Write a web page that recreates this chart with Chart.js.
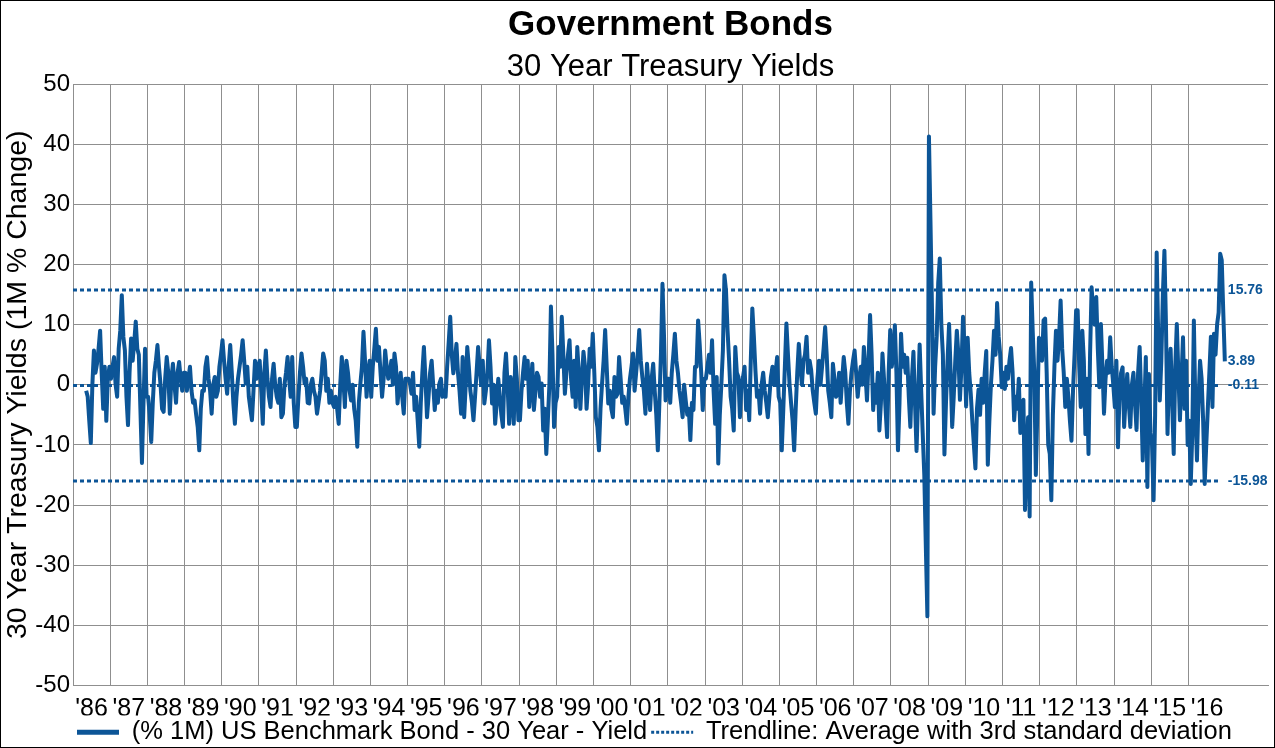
<!DOCTYPE html>
<html>
<head>
<meta charset="utf-8">
<script src="https://cdn.jsdelivr.net/npm/chart.js@4.4.1/dist/chart.umd.min.js"></script>
<style>
  html, body { margin: 0; padding: 0; background: #fff; }
  canvas { display: block; }
</style>
</head>
<body>
<canvas id="bonds" width="1275" height="748"></canvas>
<script>
const seriesName = '(% 1M) US Benchmark Bond - 30 Year - Yield';
const trendName = 'Trendline: Average with 3rd standard deviation';
const yearLabels = ["'86", "'87", "'88", "'89", "'90", "'91", "'92", "'93", "'94", "'95", "'96",
  "'97", "'98", "'99", "'00", "'01", "'02", "'03", "'04", "'05", "'06", "'07", "'08", "'09",
  "'10", "'11", "'12", "'13", "'14", "'15", "'16"];
const trendLevels = [15.76, -0.11, -15.98];

// half-monthly readings of the 1M % change; series starts early May 1986
const firstYear = 1986;
const firstSlot = 8;
const h1986 = [-1, -2, -6, -9.7, 0, 5.7, 2, 3.5, 6, 9, 2, -4, 3, -6, 1, 3];
const h1987 = [1, 3, 4.6, 0, -2, 6, 9, 14.9, 8, 5.7, -2, -6.7, 2, 7.7, 4, 7, 10.5, 6, 5, -4, -13, -3, 6, -2];
const h1988 = [-2, -5, -9.5, -3, 2, 4, 6.6, 3, 0, -4, -4.5, 1, 4.6, 2, -4.8, 1, 3.5, 0, -3, 2, 3.8, 1, -1, 2];
const h1989 = [2, -1, 1, 3, -1, -3, -2.6, -5, -7, -10.9, -4, -1, -1, 3, 4.6, 1, -1, -4.8, 0, 1.3, -2, -1, 3, 5];
const h1990 = [7.4, 4, 1, -1.5, 3, 6.6, 2, -3, -6.5, -2, 1, 3, 5, 7.4, 4, 0.2, 3, -2, -4, -5.9, -1, 4, 1, 3];
const h1991 = [4, -1, -6.5, 2, 5.7, 1, -2, -3.7, 1, 3.5, 0, -2, -3, 1, -5.4, -4.8, 0, 2, 4.6, 1, -2, 4.6, -3, -7];
const h1992 = [-7, -2, 2, 5.2, 3, 0.2, 1, -3, -3.1, 0, 1, -1, -2, -4.8, -3, -1, 2, 5.2, 4, -1, 1, -3, -1, -3];
const h1993 = [-3.7, -2, -4, -6.5, 0, 4.6, 1, -3.7, 4, 2, -1, -2.6, 0, -4, -6, -10.3, -3, 0.2, 3, 8.8, 4, -2, 2, 4];
const h1994 = [-2, 3, 6, 9.3, 4, 6.3, 2, -2, 1, 5.7, 3, 1, 2, 4, 0, 5.2, 3, -3.1, 0, 2, -2, -4.8, 1, 1];
const h1995 = [1, 0.2, -1.5, 2, -4.2, -2, -6, -10.3, -3, 2, 6.3, 1, -5.4, -2, 2, 4, 0, -4.2, -1, -3, 0.2, 1, -2, -1];
const h1996 = [-2, 3, 7, 11.3, 5, 1.9, 4, 6.8, 2, -1, -4.8, 4.6, -5.4, 0, 6.3, 3, -1, -3, -5.9, -2, 2, 6.3, 3, 0];
const h1997 = [4, -3.1, -1, 2, 7.4, 3, -3.1, 0, -6.5, -3, 1, -2, -5, -7, 2, 5.2, 0, -6.5, 1.3, -2, -6.5, 4.6, 1, -5.9];
const h1998 = [-5.9, -1, 2, 4.6, 1, 4, -3.7, 0, 3.5, -4.2, -1, 2, 1.3, -2, 0.2, -7.6, -4, -11.5, -6, 0, 13, 5, -7, -3];
const h1999 = [-2, 6.3, 3, 11.3, 5, -1.5, 2, 5, 7.4, 1, -2, 4, -3.7, 6.3, 2, -4, 1, 5.5, 3, -4, 0, 6, 3, 8.5];
const h2000 = [2, -5.4, -7, -10.9, -4, 0.2, 4, 9.1, 3, -3.1, -1, -4, -5.4, 1.3, -2, -1.5, 4.6, 1, -3, -2, -4, -6.5, -2, 1];
const h2001 = [3, 5.2, -1, 2, 5, 9.1, 4, 1.3, -1, -4.8, 3.5, 0, -4.2, 1, 3.5, -1, -5, -10.9, -3, 5, 16.8, 8, -2.6, 1];
const h2002 = [1, -3, 2, 5, 8.5, 4, 1.9, -1, -3, -5.4, 0, -2.6, -5, -4, -9.2, -3, -4.2, 3, 3, 10.7, 6.8, 2, -4.2, 1];
const h2003 = [1, 3, 5, 2, 7.4, -1, -6.5, 1.3, -13.1, -5, 0, 5.7, 18.2, 15.7, 9.1, 4, -2, -4, -7.6, 6.3, 2, 1.3, -5.4, 0];
const h2004 = [1.3, 3, -4.2, -1, -5.9, 4, 12.7, 8, 2.4, -2, -1, -4.8, 0, 2, -1, -3, -5.4, -2, 1.3, 3, 0, 2, 4.6, -2];
const h2005 = [-3, -10.9, -4, 3, 10.2, 5, 0.2, -3, -6, -10.9, -4, 2, 6.8, 3, 0, 4, 5, 8, 2, 4, 2.4, -1, -3, -4.8];
const h2006 = [1, 4, 0, 3, 6, 9.6, 5, -1, -3, -5.4, 3.5, 1, -2, -1.5, 2, -3, 1, 4.6, 2, -3, -6.5, -1, 2, 4];
const h2007 = [5.7, 2, -2, 1, 3, 0, 6.3, 2, -2.6, 4, 11.6, 5, -4.2, 0, -3, 2, -7.6, -3, 5.2, 1, -4, -8.7, 2, 9.1];
const h2008 = [3, 5, 9.9, 2, -10.9, -3, 8.5, 3, 5, 2, 4.5, -2, -7, 1, 5.5, -3, -11, -2, 6.7, -1, -8.2, -15, -27, -38.5];
const h2009 = [41.3, 27, 12, -4.8, 3, 8, 17, 21, 10, 5, -11.6, -3, 4, 10.1, 2, -7, -2, 4, 9, 5, -2.5, 3, 11.3, 6];
const h2010 = [-3.6, 7.8, 2, -1.5, -6, -10, -13.9, -4, -0.8, -5, 1, -3, 2, 5.6, -13.3, -6, 0, 4, 9, 5, 13.6, 8, 5, -0.4];
const h2011 = [2, -0.7, 3, 1, 4, 6.1, 2, -5.9, -2, -4, 1, -8, -3, -2.5, -20.8, -12, -5.4, -21.9, 17, 8.8, 2, -15, -4, 7.8];
const h2012 = [7.4, 4, 10.7, 11, 2, -10, -11.5, -19.2, -5, 3, 9, 4, 8, 14, 6, 2, -3.7, 1, -2, -6, -9.3, -1, 5, 12.4];
const h2013 = [12.4, 3, -3.7, 9, 4, -8.2, 1, -11.5, 5, 16.2, 12, 10, 14.6, 6, -0.4, 10.1, 3, -4.8, 1, 4, 2, 7.9, 3, 0];
const h2014 = [-3.7, 4, -10.4, -2, 1.9, 2.9, -7, -2, 1.8, -3, -7, 0, 2, -3, -7.5, 2, 6.3, -2, -12.6, -4, 4.6, -17, 1.8, -8];
const h2015 = [-10, -19.2, -5, 22, 8, -2.6, 4, 15, 22.3, 10, -8.2, 2, 6, -3, -11.5, 3, 10.1, 2, -5.9, 1, 7.9, -4, 4, -10];
const h2016 = [-6, -16.5, -8, 10.7, -4, -12.6, -2.6, 4, 1, -6, -16.5, -10, -4, 2, 8, -3.7, 8.5, 5, 10, 12, 21.8, 20.7, 12, 3.89];

const halfMonthlyByYear = [h1986, h1987, h1988, h1989, h1990, h1991, h1992, h1993, h1994, h1995,
  h1996, h1997, h1998, h1999, h2000, h2001, h2002, h2003, h2004, h2005, h2006, h2007, h2008,
  h2009, h2010, h2011, h2012, h2013, h2014, h2015, h2016];

const BLUE = '#0C5597';
const GRID = '#8f8f8f';
const FONT = "'Liberation Sans', Arial, sans-serif";

const points = [];
halfMonthlyByYear.forEach((vals, i) => {
  const start = i === 0 ? firstSlot : 0;
  vals.forEach((v, j) => {
    points.push({ x: firstYear + i + (start + j + 0.5) / 24, y: v });
  });
});
const lastPoint = points[points.length - 1];

const trendSets = trendLevels.map(v => ({
  label: trendName,
  data: [{ x: firstYear, y: v }, { x: lastPoint.x - 0.15, y: v }],
  borderColor: BLUE,
  borderWidth: 3,
  borderDash: [4, 3],
  pointRadius: 0,
  fill: false
}));

// value labels at the right end of the lines
const endLabels = {
  id: 'endLabels',
  afterDatasetsDraw(chart) {
    const { ctx, scales } = chart;
    const xs = scales.x.getPixelForValue(lastPoint.x) + 3;
    ctx.save();
    ctx.font = 'bold 14px ' + FONT;
    ctx.fillStyle = BLUE;
    ctx.textAlign = 'left';
    ctx.textBaseline = 'middle';
    [...trendLevels, lastPoint.y].forEach(v => {
      ctx.fillText(v.toFixed(2), xs, scales.y.getPixelForValue(v));
    });
    ctx.restore();
  }
};

const frame = {
  id: 'frame',
  beforeDraw(chart) {
    const { ctx, width, height } = chart;
    ctx.save();
    ctx.fillStyle = '#fff';
    ctx.fillRect(0, 0, width, height);
    ctx.restore();
  },
  afterDraw(chart) {
    const { ctx, width, height } = chart;
    ctx.save();
    ctx.strokeStyle = '#000';
    ctx.lineWidth = 1;
    ctx.strokeRect(0.5, 0.5, width - 1, height - 1);
    ctx.restore();
  }
};

new Chart(document.getElementById('bonds').getContext('2d'), {
  type: 'line',
  data: {
    datasets: [{
      label: seriesName,
      data: points,
      borderColor: BLUE,
      backgroundColor: BLUE,
      borderWidth: 4,
      borderJoinStyle: 'round',
      pointRadius: 0,
      tension: 0,
      fill: false
    }, ...trendSets]
  },
  plugins: [frame, endLabels],
  options: {
    responsive: false,
    animation: false,
    layout: { padding: { left: 0, right: 7, top: 0, bottom: -7 } },
    plugins: {
      title: {
        display: true,
        fullSize: false,
        text: 'Government Bonds',
        color: '#000',
        font: { family: FONT, size: 35, weight: 'bold', lineHeight: 1.1 },
        padding: { top: 6, bottom: 0 }
      },
      subtitle: {
        display: true,
        fullSize: false,
        text: '30 Year Treasury Yields',
        color: '#000',
        font: { family: FONT, size: 31, lineHeight: 1.05 },
        padding: { top: 7, bottom: 0 }
      },
      legend: {
        position: 'bottom',
        align: 'start',
        fullSize: false,
        labels: {
          color: '#000',
          font: { family: FONT, size: 25.5 },
          usePointStyle: true,
          pointStyleWidth: 42,
          boxHeight: 10,
          padding: 4,
          generateLabels: () => [
            { text: seriesName, strokeStyle: BLUE, fillStyle: BLUE, lineWidth: 5, lineDash: [], pointStyle: 'line', datasetIndex: 0 },
            { text: trendName, strokeStyle: BLUE, fillStyle: BLUE, lineWidth: 3, lineDash: [3, 2], pointStyle: 'line', datasetIndex: 1 }
          ]
        }
      },
      tooltip: { enabled: false }
    },
    scales: {
      x: {
        type: 'linear',
        position: 'bottom',
        min: 1986,
        max: 2018.14,
        weight: 0,
        afterBuildTicks: s => {
          s.ticks = yearLabels.slice(1).map((_, i) => ({ value: firstYear + 1 + i }));
        },
        grid: { color: GRID, drawTicks: false },
        border: { color: GRID },
        ticks: { display: false }
      },
      xl: {
        type: 'linear',
        position: 'bottom',
        min: 1986,
        max: 2018.14,
        weight: 1,
        afterBuildTicks: s => {
          s.ticks = yearLabels.map((_, i) => ({ value: firstYear + i + 0.5 }));
        },
        afterFit: s => { s.height = 30; },
        grid: { display: false, drawTicks: false },
        border: { display: false },
        ticks: {
          autoSkip: false,
          maxRotation: 0,
          padding: 9,
          color: '#000',
          font: { family: FONT, size: 25 },
          callback: (v, i) => yearLabels[i]
        }
      },
      y: {
        min: -50,
        max: 50,
        afterFit: s => { s.width = 73; },
        ticks: {
          stepSize: 10,
          padding: 3,
          color: '#000',
          font: { family: FONT, size: 24 }
        },
        grid: { color: GRID, drawTicks: false },
        border: { color: GRID },
        title: {
          display: true,
          text: '30 Year Treasury Yields (1M % Change)',
          color: '#000',
          font: { family: FONT, size: 28.5 },
          padding: { top: 1, bottom: 0 }
        }
      }
    }
  }
});
</script>
</body>
</html>
